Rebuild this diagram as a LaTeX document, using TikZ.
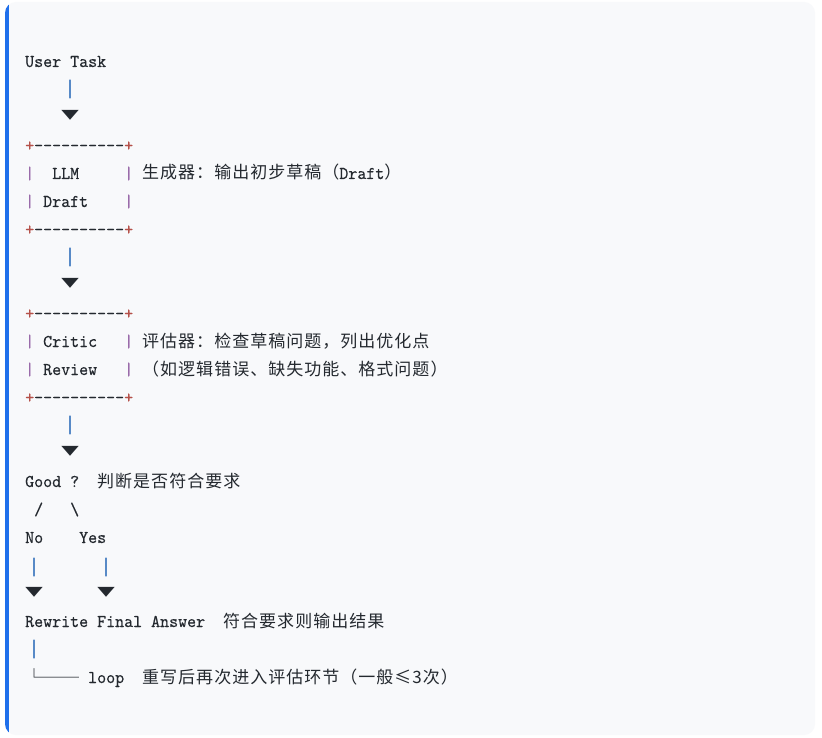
\documentclass[tikz,border=0pt]{standalone}
\usepackage{fontspec}
\setmonofont{lmmono10-regular.otf}[FakeStretch=0.952, FakeBold=0.3]
\newfontfamily\zhfont[LetterSpace=6]{Noto Sans CJK SC}
\newfontfamily\glyphfont{Noto Sans CJK SC}
\newfontfamily\stemfont[FakeBold=3]{Noto Sans CJK SC}
\definecolor{cardbg}{HTML}{F8F9FB}
\definecolor{barblue}{HTML}{1F6FEB}
\definecolor{ink}{HTML}{24292F}
\definecolor{stemblue}{HTML}{2A6BB8}
\definecolor{pipe}{HTML}{9A6BAA}
\definecolor{plus}{HTML}{B5514A}

\tikzset{
  txt/.style={anchor=base west, inner sep=0pt, text=ink, font=\fontsize{18}{20}\selectfont\ttfamily},
  zh/.style={anchor=base west, inner sep=0pt, text=ink, font=\fontsize{17}{20}\selectfont\zhfont},
  stem/.style={inner sep=0pt, text=stemblue, font=\fontsize{18}{18}\selectfont\stemfont},
  tip/.style={inner sep=0pt, text=ink, font=\fontsize{18.5}{18}\selectfont\glyphfont, yscale=0.66, transform shape},
  hook/.style={anchor=base west, inner sep=0pt, text=ink, font=\fontsize{18}{18}\selectfont\glyphfont},
}
\newcommand\boxrule{\textcolor{plus}{+}----------\textcolor{plus}{+}}
\newcommand\sidebar{\textcolor{pipe}{|}}

\begin{document}
\begin{tikzpicture}[x=1pt, y=-1pt]
\useasboundingbox (0,0) rectangle (822,738);
\fill[white] (0,0) rectangle (822,738);
\fill[cardbg, rounded corners=11pt] (5,2) rectangle (815,735);
\begin{scope}
\clip[rounded corners=11pt] (5,2) rectangle (815,735);
\fill[barblue] (5,2) rectangle (9,735);
\end{scope}

% task
\node[txt] (task) at (25,67) {User Task};

% three straight arrows
\foreach \sy/\ty/\n in {89/115/1, 257/283/2, 425/451/3} {
  \node[stem] (s\n) at (70,\sy) {│};
  \node[tip] (t\n) at (70,\ty) {▼};
}

% generator box
\node[txt] (llmtop) at (25,151) {\boxrule};
\node[txt] (llm) at (25,179) {\sidebar~~LLM~~~~~\sidebar};
\node[zh] (llmnote) at (142,179) {生成器：输出初步草稿（{\ttfamily\fontsize{18}{20}\selectfont Draft}）};
\node[txt] (draft) at (25,207) {\sidebar~Draft~~~~\sidebar};
\node[txt] (llmbot) at (25,235) {\boxrule};

% critic box
\node[txt] (critictop) at (25,319) {\boxrule};
\node[txt] (critic) at (25,347) {\sidebar~Critic~~~\sidebar};
\node[zh] (criticnote) at (142,347) {评估器：检查草稿问题，列出优化点};
\node[txt] (review) at (25,375) {\sidebar~Review~~~\sidebar};
\node[zh] (reviewnote) at (142,375) {（如逻辑错误、缺失功能、格式问题）};
\node[txt] (criticbot) at (25,403) {\boxrule};

% decision
\node[txt] (good) at (25,487) {Good ?};
\node[zh] (goodnote) at (97,487) {判断是否符合要求};
\node[txt] (fork) at (25,515) {~/~~~\textbackslash};
\node[txt] (noyes) at (25,543) {No~~~~Yes};
\node[stem] (sno) at (34,567) {│};
\node[stem] (syes) at (106,567) {│};
\node[tip] (tno) at (34,592) {▼};
\node[tip] (tyes) at (106,592) {▼};

% outcomes
\node[txt] (rewrite) at (25,627) {Rewrite Final Answer};
\node[zh] (finalnote) at (223,627) {符合要求则输出结果};
\node[stem] (sloop) at (34,649) {│};
\node[hook] (back) at (25,684) {└──};
\node[txt] (loop) at (88,683) {loop};
\node[zh] (loopnote) at (142,683) {重写后再次进入评估环节（一般≤3次）};
\end{tikzpicture}
\end{document}
